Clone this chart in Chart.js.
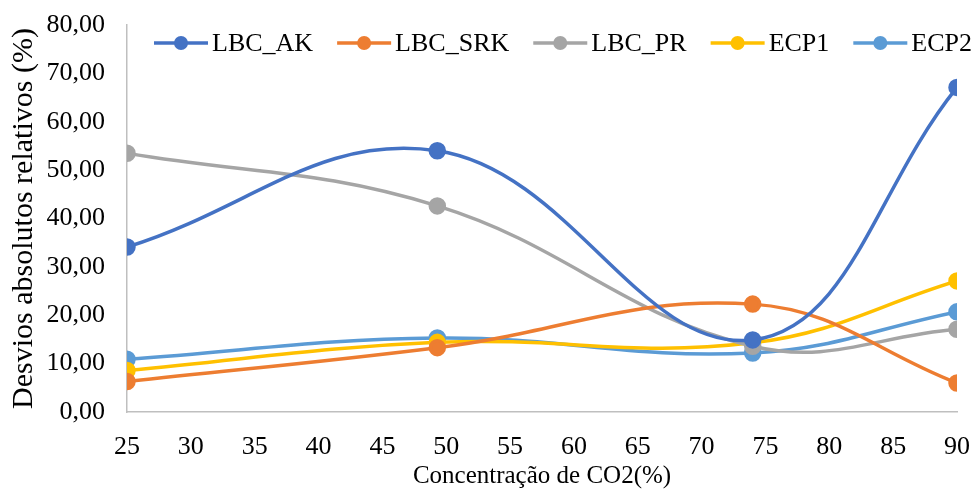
<!DOCTYPE html>
<html>
<head>
<meta charset="utf-8">
<script src="https://cdn.jsdelivr.net/npm/chart.js@4/dist/chart.umd.min.js"></script>
<style>
html,body{margin:0;padding:0;background:#fff;}
#wrap{width:980px;height:491px;position:relative;}
</style>
</head>
<body>
<div id="wrap"><canvas id="c" width="980" height="491"></canvas></div>
<script>
const xValues = [25, 49.3, 74, 90];
const seriesNames = ['LBC_AK', 'LBC_SRK', 'LBC_PR', 'ECP1', 'ECP2'];
const lbcAK  = [34.1, 54.0, 14.9, 67.1];
const lbcSRK = [6.3, 13.3, 22.3, 6.0];
const lbcPR  = [53.5, 42.6, 13.6, 17.1];
const ecp1   = [8.6, 14.4, 14.3, 27.1];
const ecp2   = [10.9, 15.3, 12.2, 20.7];
const seriesColors = ['#4472C4', '#ED7D31', '#A5A5A5', '#FFC000', '#5B9BD5'];
const yTitle = 'Desvios absolutos relativos (%)';
const xTitle = 'Concentração de CO2(%)';

const FONT = '"Liberation Serif", "Times New Roman", serif';
const allSeries = [lbcAK, lbcSRK, lbcPR, ecp1, ecp2];

const datasets = allSeries.map((vals, i) => ({
  label: seriesNames[i],
  data: xValues.map((x, j) => ({x: x, y: vals[j]})),
  borderColor: seriesColors[i],
  backgroundColor: seriesColors[i],
  pointBackgroundColor: seriesColors[i],
  pointBorderColor: seriesColors[i],
  borderWidth: 3.5,
  pointRadius: 7,
  pointHoverRadius: 7,
  tension: 0.4,
  fill: false
}));

const legendPlugin = {
  id: 'customLegend',
  afterDraw(chart) {
    const ctx = chart.ctx;
    ctx.save();
    ctx.font = '26px ' + FONT;
    ctx.textBaseline = 'middle';
    ctx.textAlign = 'left';
    let x = 154;
    const y = 43;
    chart.data.datasets.forEach((ds) => {
      ctx.strokeStyle = ds.borderColor;
      ctx.lineWidth = 3.5;
      ctx.beginPath();
      ctx.moveTo(x, y);
      ctx.lineTo(x + 54, y);
      ctx.stroke();
      ctx.fillStyle = ds.borderColor;
      ctx.beginPath();
      ctx.arc(x + 27, y, 7, 0, Math.PI * 2);
      ctx.fill();
      ctx.fillStyle = '#000';
      ctx.fillText(ds.label, x + 58, y + 1);
      x += 58 + ctx.measureText(ds.label).width + 24;
    });
    ctx.restore();
  }
};

new Chart(document.getElementById('c'), {
  type: 'line',
  data: { datasets },
  plugins: [legendPlugin],
  options: {
    responsive: false,
    animation: false,
    events: [],
    layout: { padding: { left: 6, right: 23, top: 25, bottom: 0 } },
    plugins: { legend: { display: false }, tooltip: { enabled: false } },
    scales: {
      x: {
        type: 'linear',
        min: 25, max: 90,
        grid: { display: false, tickLength: 20 },
        border: { display: true, color: '#BFBFBF', width: 1.5 },
        ticks: { stepSize: 5, color: '#000', padding: 0, maxRotation: 0, autoSkip: false,
                 font: { family: FONT, size: 26 } },
        title: { display: true, text: xTitle, color: '#000', padding: 0,
                 font: { family: FONT, size: 25 } },
        afterFit(s) { s.height = 491 - 412; }
      },
      y: {
        min: 0, max: 80,
        grid: { display: false, tickLength: 22 },
        border: { display: true, color: '#BFBFBF', width: 1.5 },
        ticks: { stepSize: 10, color: '#000', padding: 0,
                 font: { family: FONT, size: 26 },
                 callback: (v) => v.toFixed(2).replace('.', ',') },
        title: { display: true, text: yTitle, color: '#000', padding: 0,
                 font: { family: FONT, size: 30 } },
        afterFit(s) { s.width = 127 - 6; }
      }
    }
  }
});
</script>
</body>
</html>
